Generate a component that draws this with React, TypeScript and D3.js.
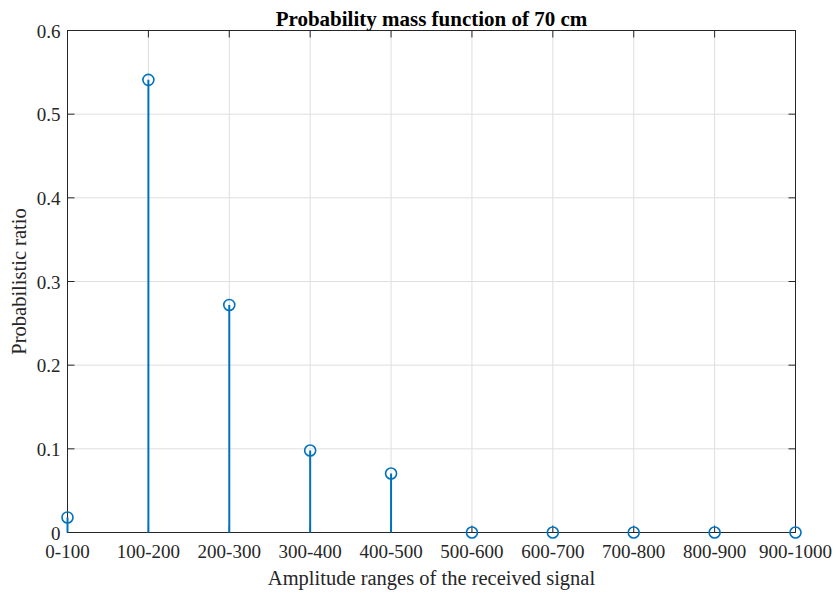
import React from "react";
import * as d3 from "d3";

const categories = ["0-100", "100-200", "200-300", "300-400", "400-500", "500-600", "600-700", "700-800", "800-900", "900-1000"];
const values = [0.018, 0.541, 0.272, 0.098, 0.0705, 0, 0, 0, 0, 0];
const yTicks = [0, 0.1, 0.2, 0.3, 0.4, 0.5, 0.6];

export default function App() {
  const W = 837, H = 593;
  const L = 67.5, R = 795.5, T = 30.5, B = 532.5;
  const x = d3.scalePoint<string>().domain(categories).range([L, R]);
  const y = d3.scaleLinear().domain([0, 0.6]).range([B, T]);
  const axisColor = "#262626";
  const font = "'Liberation Serif', 'Times New Roman', serif";
  return (
    <svg width={W} height={H} style={{ position: "absolute", left: 0, top: 0, background: "#fff" }}>
      <rect x={0} y={0} width={W} height={H} fill="#fff" />
      {/* grid */}
      {categories.map((c) => (
        <line key={"gx" + c} x1={x(c)} x2={x(c)} y1={T} y2={B} stroke="#dfdfdf" strokeWidth={1} />
      ))}
      {yTicks.map((t) => (
        <line key={"gy" + t} x1={L} x2={R} y1={y(t)} y2={y(t)} stroke="#dfdfdf" strokeWidth={1} />
      ))}
      {/* ticks */}
      {categories.map((c) => (
        <g key={"tx" + c}>
          <line x1={x(c)} x2={x(c)} y1={B} y2={B - 7} stroke={axisColor} strokeWidth={1} />
          <line x1={x(c)} x2={x(c)} y1={T} y2={T + 7} stroke={axisColor} strokeWidth={1} />
        </g>
      ))}
      {yTicks.map((t) => (
        <g key={"ty" + t}>
          <line x1={L} x2={L + 7} y1={y(t)} y2={y(t)} stroke={axisColor} strokeWidth={1} />
          <line x1={R} x2={R - 7} y1={y(t)} y2={y(t)} stroke={axisColor} strokeWidth={1} />
        </g>
      ))}
      {/* box */}
      <rect x={L} y={T} width={R - L} height={B - T} fill="none" stroke={axisColor} strokeWidth={1} />
      {/* stems */}
      {categories.map((c, i) => (
        <g key={"s" + c}>
          <line x1={x(c)} x2={x(c)} y1={y(0)} y2={y(values[i])} stroke="#0072BD" strokeWidth={2} />
          <circle cx={x(c)} cy={y(values[i])} r={5.5} fill="none" stroke="#0072BD" strokeWidth={1.6} />
        </g>
      ))}
      {/* tick labels */}
      {categories.map((c) => (
        <text key={"lx" + c} x={x(c)} y={558} textAnchor="middle" fontFamily={font} fontSize={19} fill={axisColor}>{c}</text>
      ))}
      {yTicks.map((t) => (
        <text key={"ly" + t} x={L - 7} y={y(t) + 7} textAnchor="end" fontFamily={font} fontSize={19} fill={axisColor}>{t === 0 ? "0" : t.toFixed(1)}</text>
      ))}
      <text x={(L + R) / 2} y={585} textAnchor="middle" fontFamily={font} fontSize={20.5} fill={axisColor}>Amplitude ranges of the received signal</text>
      <text transform={`translate(26, ${(T + B) / 2}) rotate(-90)`} textAnchor="middle" fontFamily={font} fontSize={20.5} fill={axisColor}>Probabilistic ratio</text>
      <text x={(L + R) / 2} y={26} textAnchor="middle" fontFamily={font} fontSize={21} fontWeight="bold" fill="#000">Probability mass function of 70 cm</text>
    </svg>
  );
}
